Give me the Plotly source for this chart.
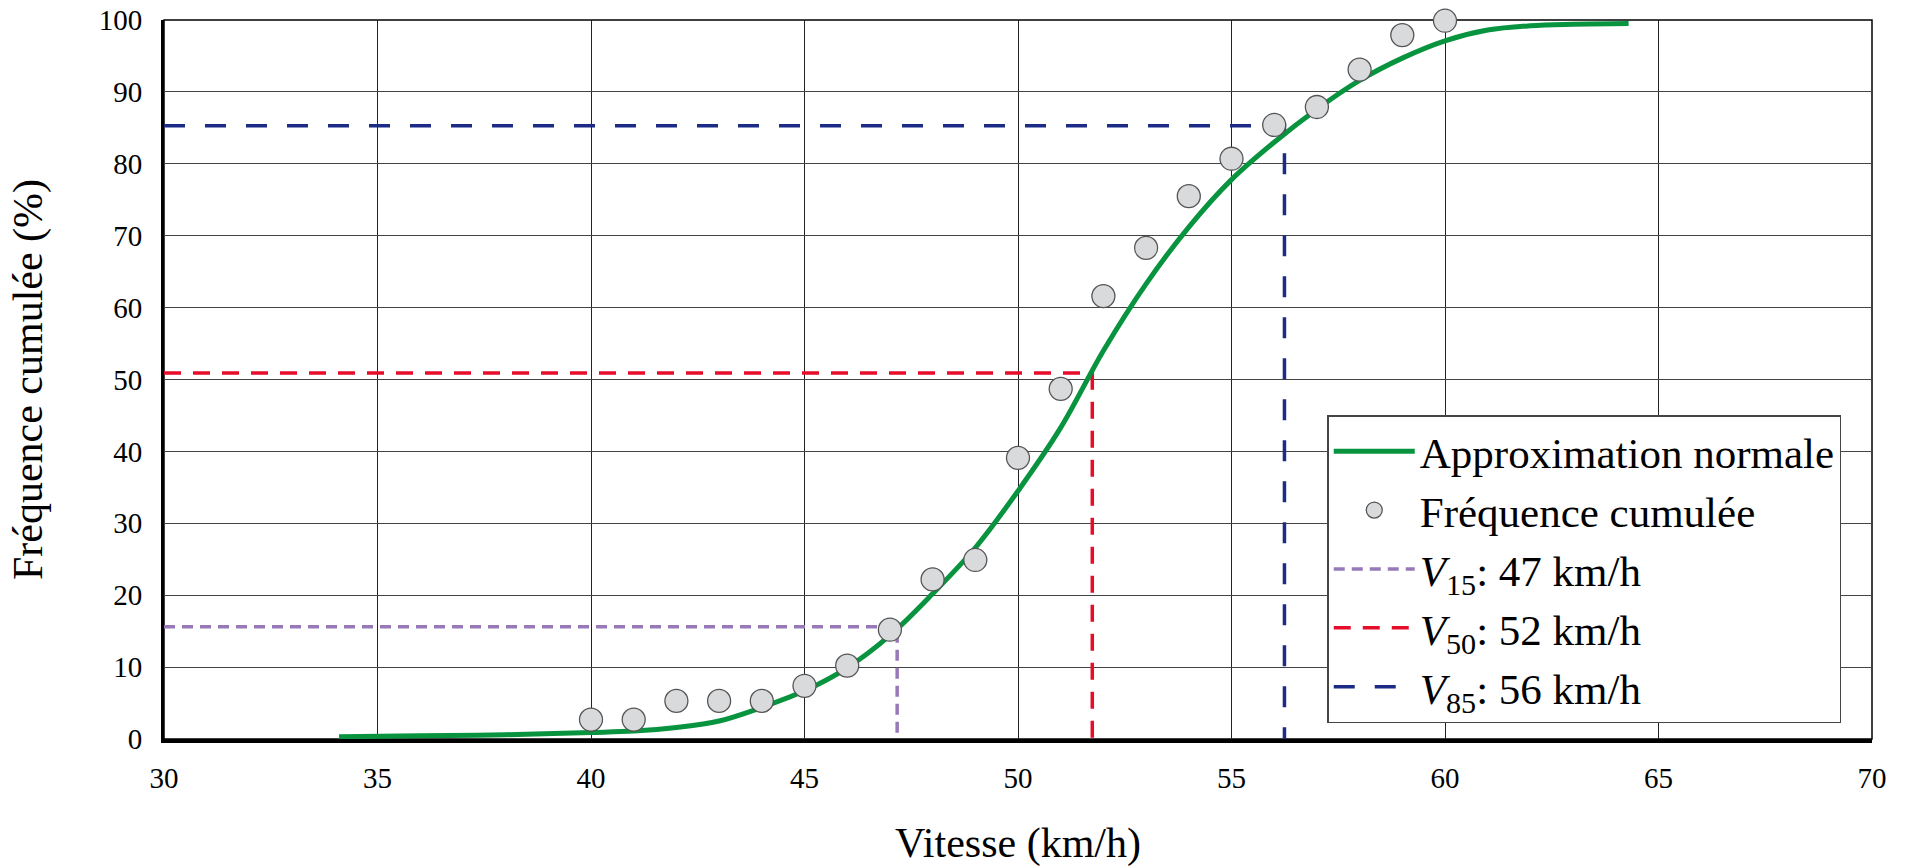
import plotly.graph_objects as go

# Observed cumulative frequency (points)
speed_obs = [40, 41, 42, 43, 44, 45, 46, 47, 48, 49, 50, 51, 52, 53, 54, 55, 56, 57, 58, 59, 60]
freq_obs = [2.7, 2.7, 5.3, 5.3, 5.3, 7.4, 10.2, 15.2, 22.2, 24.9, 39.1, 48.7, 61.6, 68.3, 75.5, 80.7, 85.4, 87.9, 93.1, 97.9, 99.9]

# Normal approximation curve
speed_fit = [34.1, 36, 38, 40, 41, 42, 43, 44, 45, 46, 47, 48, 49, 50, 51, 52, 53, 54, 55, 56, 57, 58, 59, 60, 61, 62, 63, 64.3]
freq_fit = [0.3, 0.45, 0.6, 0.9, 1.1, 1.6, 2.5, 4.4, 6.7, 9.9, 14.4, 20.2, 26.6, 34.5, 43.3, 54.0, 63.3, 71.2, 77.8, 83.0, 87.6, 91.6, 94.7, 97.1, 98.6, 99.2, 99.4, 99.5]

# Percentile speeds
v_names = ["<i>V</i><sub>15</sub>: 47 km/h", "<i>V</i><sub>50</sub>: 52 km/h", "<i>V</i><sub>85</sub>: 56 km/h"]
v_speed = [47.17, 51.74, 56.24]
v_freq = [15.6, 50.9, 85.3]
v_colors = ["#9779b9", "#e60d2b", "#1c2b85"]
v_dash = ["11px,7px", "17px,12px", "21px,20px"]
v_width = [3.5, 3.5, 3.5]

X_MIN, X_MAX = 30, 70
Y_MIN, Y_MAX = 0, 100

FONT = "Liberation Serif, 'Times New Roman', serif"

fig = go.Figure()

for i in range(3):
    fig.add_trace(go.Scatter(
        x=[X_MIN, v_speed[i], v_speed[i]],
        y=[v_freq[i], v_freq[i], Y_MIN],
        mode="lines",
        name=v_names[i],
        line=dict(color=v_colors[i], width=v_width[i], dash=v_dash[i]),
        legendrank=3 + i,
    ))

fig.add_trace(go.Scatter(
    x=speed_fit, y=freq_fit, mode="lines",
    name="Approximation normale",
    line=dict(color="#08933f", width=5, shape="spline", smoothing=1.0),
    legendrank=1,
))

fig.add_trace(go.Scatter(
    x=speed_obs, y=freq_obs, mode="markers",
    name="Fréquence cumulée",
    marker=dict(size=23, color="#d9dadc", line=dict(color="#555555", width=1.3)),
    legendrank=2,
    cliponaxis=False,
))

fig.update_layout(
    width=1909, height=867,
    margin=dict(l=164, r=37, t=20, b=128, autoexpand=False),
    paper_bgcolor="white",
    plot_bgcolor="white",
    font=dict(family=FONT, color="black", size=29),
    showlegend=True,
    legend=dict(
        x=0.982, y=0.022, xanchor="right", yanchor="bottom",
        bgcolor="white", bordercolor="#444444", borderwidth=1.5,
        font=dict(family=FONT, size=43, color="black"),
        itemwidth=81,
        tracegroupgap=0,
    ),
    xaxis=dict(
        range=[X_MIN, X_MAX], dtick=5, tick0=30,
        showgrid=True, gridcolor="#222222", gridwidth=1.1,
        zeroline=False, showline=True, linecolor="black", linewidth=4,
        ticks="", ticklabelstandoff=10, automargin=False, ticklabeloverflow="allow",
        tickfont=dict(family=FONT, size=29),
        title=dict(text="Vitesse (km/h)", font=dict(family=FONT, size=42), standoff=59),
    ),
    yaxis=dict(
        range=[Y_MIN, Y_MAX], dtick=10, tick0=0,
        showgrid=True, gridcolor="#444444", gridwidth=1.2,
        zeroline=False, showline=True, linecolor="black", linewidth=3,
        ticks="", ticklabelstandoff=13, automargin=False, ticklabeloverflow="allow",
        tickfont=dict(family=FONT, size=29),
        title=dict(text="Fréquence cumulée (%)", font=dict(family=FONT, size=42), standoff=44),
    ),
    shapes=[dict(type="rect", xref="paper", yref="paper", x0=0, x1=1, y0=0, y1=1,
                 line=dict(color="black", width=1.5), layer="below")],
)

fig.write_html("out.html", config={"displayModeBar": False},
               post_script="document.body.style.margin='0px';")
